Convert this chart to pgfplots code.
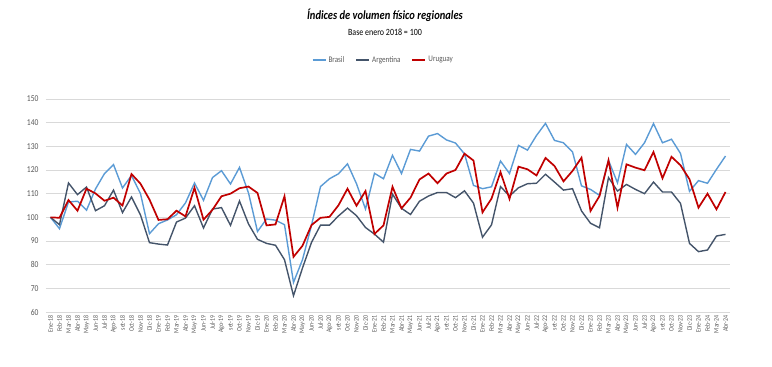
\documentclass[border=0pt]{standalone}
\usepackage{pgfplots}
\usepackage{pgfplotstable}
\pgfplotsset{compat=1.18}
\usepackage{fontspec}
\setmainfont[FakeStretch=0.84]{Carlito}
\definecolor{brasil}{HTML}{5B9BD5}
\definecolor{argentina}{HTML}{44546A}
\definecolor{uruguay}{HTML}{C00000}
\definecolor{gridc}{HTML}{D9D9D9}
\definecolor{txt}{HTML}{595959}

\pgfplotstableread{
x bra arg uru
0 100 100 100
1 95.2 96.9 99.8
2 106.5 114.5 107.3
3 106.8 109.6 102.8
4 103 112.8 112.1
5 112 102.8 110.1
6 118.5 104.9 107
7 122.3 111.5 108.3
8 112.4 102 105
9 117.7 108.6 118.3
10 110 101 114.2
11 93.1 89.3 107.5
12 97.3 88.7 98.9
13 98.9 88.3 99.2
14 101.1 98 102.8
15 106.1 99.7 100.4
16 114.5 104.9 112.5
17 107.2 95.5 99
18 116.8 103.5 103.2
19 119.7 104.1 108.9
20 114.1 96.6 110
21 121.1 106.9 112.3
22 110.3 97.2 113
23 94 90.7 110.3
24 99.3 89 96.6
25 98.8 88.2 97
26 96.9 82.1 108.9
27 72.5 66.9 83.3
28 82.1 78.6 88
29 96.6 89.4 96.7
30 113 96.7 99.8
31 116.3 96.7 100.2
32 118.4 100.6 105.1
33 122.6 103.9 112.1
34 114.2 100.7 104.9
35 103.5 95.7 111.1
36 118.6 92.9 93
37 116.3 89.5 96.6
38 126.2 109.8 112.9
39 118.5 103.8 103.8
40 128.7 101.2 108.3
41 128 106.8 116
42 134.3 109 118.5
43 135.4 110.5 114.4
44 132.7 110.5 118.5
45 131.4 108.3 120
46 126.8 111.2 126.9
47 113.5 106 124
48 112.1 91.6 102.1
49 112.9 96.8 107.9
50 123.8 113 119.1
51 118.5 109 107.8
52 130.4 112.5 121.4
53 128.4 114.2 120.3
54 134.6 114.4 117.7
55 139.7 118.2 125.1
56 132.5 114.9 121.7
57 131.5 111.5 115.2
58 127.7 112.1 119.6
59 113.3 102.7 125.2
60 111.8 97.5 102.7
61 109.3 95.6 109
62 124.1 116.8 124.1
63 114.6 111.1 104.1
64 130.8 113.9 122.4
65 126.6 111.8 121
66 131.5 110 119.9
67 139.6 114.9 127.6
68 131.5 110.7 116.5
69 133 110.7 125.6
70 127 105.9 122
71 111 89 116.1
72 115.5 85.5 104.1
73 114.4 86.2 110
74 120.3 92.1 103.4
75 125.9 92.8 110.7
}\datatable

\begin{document}
\begin{tikzpicture}
\path[use as bounding box] (0pt,0pt) rectangle (772pt,367pt);
\node[font=\fontsize{12.5}{14}\selectfont\bfseries\itshape] at (385pt,352pt) {Índices de volumen físico regionales};
\node[font=\fontsize{9.5}{11}\selectfont] at (385pt,335pt) {Base enero 2018 = 100};
\begin{axis}[
  at={(46pt,55pt)}, anchor=south west,
  scale only axis, width=684pt, height=213pt,
  xmin=-0.5, xmax=75.5, ymin=60, ymax=150,
  ytick={60,70,...,150},
  xtick={0,...,75},
  xticklabels={Ene-18,Feb-18,Mar-18,Abr-18,May-18,Jun-18,Jul-18,Ago-18,set-18,Oct-18,Nov-18,Dic-18,
    Ene-19,Feb-19,Mar-19,Abr-19,May-19,Jun-19,Jul-19,Ago-19,set-19,Oct-19,Nov-19,Dic-19,
    Ene-20,Feb-20,Mar-20,Abr-20,May-20,Jun-20,Jul-20,Ago-20,set-20,Oct-20,Nov-20,Dic-20,
    Ene-21,Feb-21,Mar-21,Abr-21,May-21,Jun-21,Jul-21,Ago-21,set-21,Oct-21,Nov-21,Dic-21,
    Ene-22,Feb-22,Mar-22,Abr-22,May-22,Jun-22,Jul-22,Ago-22,set-22,Oct-22,Nov-22,Dic-22,
    Ene-23,Feb-23,Mar-23,Abr-23,May-23,Jun-23,Jul-23,Ago-23,set-23,Oct-23,Nov-23,Dic-23,
    Ene-24,Feb-24,Mar-24,Abr-24},
  axis line style={draw=none},
  major tick length=0pt,
  ymajorgrids, grid style={gridc, line width=0.8pt},
  /pgf/number format/assume math mode=true,
  yticklabel style={font=\fontsize{9}{10}\selectfont, text=txt, xshift=-4pt},
  xticklabel style={font=\fontsize{7}{8}\selectfont, text=txt, rotate=90, anchor=east},
  legend columns=3,
  legend style={at={(0.493,1.183)}, anchor=center, draw=none, fill=none,
    font=\fontsize{8.5}{9}\selectfont, text=txt,
    /tikz/every even column/.append style={column sep=9pt}},
  legend image code/.code={\draw[#1,line width=2pt] (0pt,0pt) -- (13pt,0pt);},
]
\addplot[brasil, line width=1.4pt] table[x=x,y=bra] {\datatable};
\addlegendentry{Brasil}
\addplot[argentina, line width=1.4pt] table[x=x,y=arg] {\datatable};
\addlegendentry{Argentina}
\addplot[uruguay, line width=1.7pt] table[x=x,y=uru] {\datatable};
\addlegendentry{Uruguay}
\end{axis}
\end{tikzpicture}
\end{document}
